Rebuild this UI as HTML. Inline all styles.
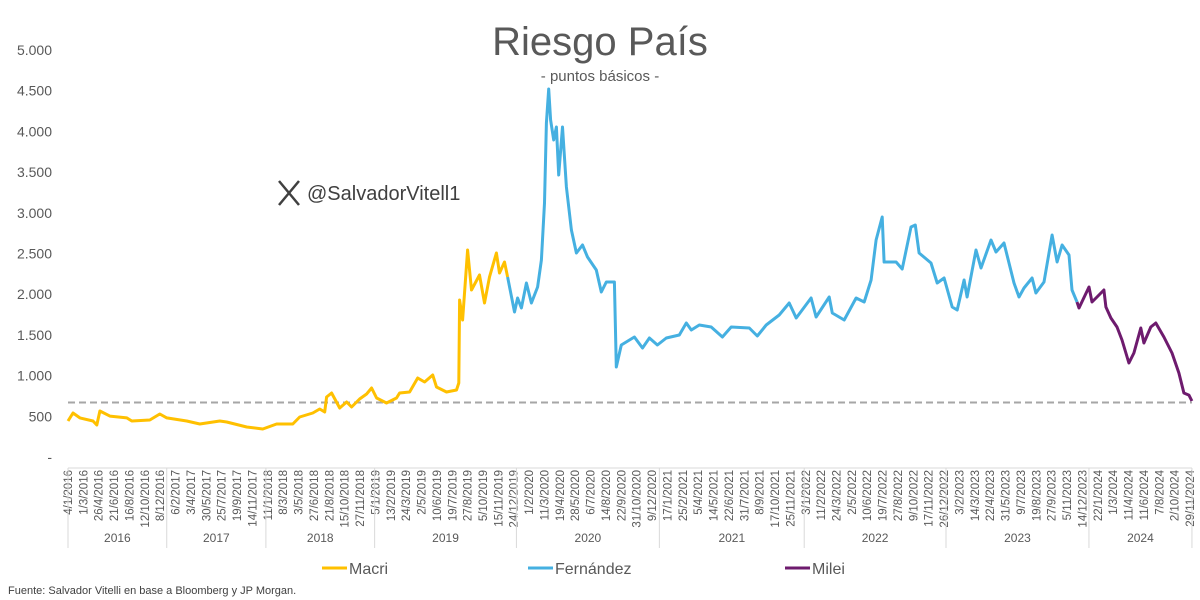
<!DOCTYPE html>
<html><head><meta charset="utf-8"><style>
body{margin:0;background:#fff;}
svg{display:block;font-family:"Liberation Sans",sans-serif;}
</style></head><body>
<svg id="chart" width="1200" height="600">
<text x="600" y="55" text-anchor="middle" font-size="40" fill="#595959">Riesgo País</text>
<text x="600" y="81" text-anchor="middle" font-size="15" fill="#595959">- puntos básicos -</text>
<g stroke="#404040" stroke-width="2.5" fill="none"><path d="M279 181 L299 205 M299 181 L279 205" /></g>
<text x="307" y="200" font-size="20" fill="#404040">@SalvadorVitell1</text>
<g id="yaxis"></g><g id="xaxis"></g><g id="series"></g>
<g>
<line x1="322" y1="568" x2="347" y2="568" stroke="#FFC000" stroke-width="3"/>
<text x="349" y="574" font-size="16" fill="#595959">Macri</text>
<line x1="528" y1="568" x2="553" y2="568" stroke="#45B0E1" stroke-width="3"/>
<text x="555" y="574" font-size="16" fill="#595959">Fernández</text>
<line x1="785" y1="568" x2="810" y2="568" stroke="#6E1B6E" stroke-width="3"/>
<text x="812" y="574" font-size="16" fill="#595959">Milei</text>
</g>
<text x="8" y="594" font-size="11" fill="#404040">Fuente: Salvador Vitelli en base a Bloomberg y JP Morgan.</text>
</svg>
<script>
const yTicks=[0,500,1000,1500,2000,2500,3000,3500,4000,4500,5000];
const yTickLabels=["-","500","1.000","1.500","2.000","2.500","3.000","3.500","4.000","4.500","5.000"];
const xTickLabels=["4/1/2016","1/3/2016","26/4/2016","21/6/2016","16/8/2016","12/10/2016","8/12/2016","6/2/2017","3/4/2017","30/5/2017","25/7/2017","19/9/2017","14/11/2017","11/1/2018","8/3/2018","3/5/2018","27/6/2018","21/8/2018","15/10/2018","27/11/2018","5/1/2019","13/2/2019","24/3/2019","2/5/2019","10/6/2019","19/7/2019","27/8/2019","5/10/2019","15/11/2019","24/12/2019","1/2/2020","11/3/2020","19/4/2020","28/5/2020","6/7/2020","14/8/2020","22/9/2020","31/10/2020","9/12/2020","17/1/2021","25/2/2021","5/4/2021","14/5/2021","22/6/2021","31/7/2021","8/9/2021","17/10/2021","25/11/2021","3/1/2022","11/2/2022","24/3/2022","2/5/2022","10/6/2022","19/7/2022","27/8/2022","9/10/2022","17/11/2022","26/12/2022","3/2/2023","14/3/2023","22/4/2023","31/5/2023","9/7/2023","19/8/2023","27/9/2023","5/11/2023","14/12/2023","22/1/2024","1/3/2024","11/4/2024","11/6/2024","7/8/2024","2/10/2024","29/11/2024"];
const tickEvery=40;
const years=["2016","2017","2018","2019","2020","2021","2022","2023","2024"];
const yearStarts=[0,257,515,798,1167,1539,1916,2285,2657];
const lastDay=2925;
const refLevel=670;
const macriDays=[0,13,31,65,75,83,109,153,166,213,239,257,309,343,395,413,465,507,543,585,603,637,655,668,673,686,707,725,738,759,777,790,803,829,855,863,889,910,928,949,959,985,1011,1017,1019,1027,1040,1050,1071,1084,1097,1115,1123,1136,1144];
const macriVals=[442,540,480,442,393,565,503,480,442,455,528,480,442,405,442,430,368,344,405,405,491,540,590,553,737,786,602,676,614,712,774,848,725,663,725,786,798,970,921,1007,860,798,823,909,1929,1683,2543,2052,2236,1892,2211,2506,2260,2396,2211];
const fernDays=[1144,1162,1170,1180,1193,1206,1222,1232,1240,1245,1251,1256,1264,1271,1277,1287,1297,1310,1323,1339,1352,1375,1388,1401,1422,1427,1440,1474,1495,1513,1534,1557,1591,1609,1622,1643,1674,1703,1726,1773,1794,1817,1851,1877,1895,1934,1947,1981,1989,2020,2051,2072,2090,2103,2119,2124,2155,2171,2194,2205,2215,2246,2262,2280,2301,2314,2332,2340,2363,2376,2402,2415,2436,2462,2475,2488,2509,2519,2540,2561,2574,2587,2605,2613,2626];
const fernVals=[2211,1781,1953,1830,2138,1892,2088,2420,3120,4103,4521,4140,3894,4054,3464,4054,3317,2789,2506,2604,2457,2297,2027,2150,2150,1106,1376,1474,1339,1462,1376,1462,1499,1646,1560,1622,1597,1474,1597,1585,1486,1622,1744,1892,1708,1953,1720,1966,1769,1683,1953,1904,2174,2666,2948,2396,2396,2310,2826,2850,2506,2383,2138,2199,1843,1806,2174,1966,2543,2322,2666,2519,2629,2138,1966,2076,2199,2015,2150,2727,2396,2604,2482,2052,1904];
const mileiDays=[2626,2631,2657,2665,2678,2696,2701,2714,2730,2743,2761,2774,2792,2800,2818,2831,2852,2873,2891,2904,2917,2925];
const mileiVals=[1904,1830,2088,1904,1966,2052,1843,1708,1597,1437,1155,1278,1585,1400,1597,1646,1474,1278,1032,786,761,688];

const NS="http://www.w3.org/2000/svg";
const X0=68,PX_PER_TICK=15.37,Y0=457,Y_PER_UNIT=407/5000;
function xs(d){return X0+d/tickEvery*PX_PER_TICK;}
function ys(v){return Y0-v*Y_PER_UNIT;}
function mk(tag,attrs,parent){const e=document.createElementNS(NS,tag);for(const k in attrs)e.setAttribute(k,attrs[k]);parent.appendChild(e);return e;}
const ya=document.getElementById('yaxis'),xa=document.getElementById('xaxis'),sg=document.getElementById('series');
yTicks.forEach((v,i)=>{
 const t=mk('text',{x:52,y:ys(v)+5,'text-anchor':'end','font-size':14,fill:'#595959'},ya);
 
 
 t.textContent=yTickLabels[i];
});
const ax=mk('line',{x1:X0,y1:468,x2:xs(lastDay),y2:468,stroke:'#d9d9d9','stroke-width':1},xa);


xTickLabels.forEach((lab,i)=>{
 const x=xs(i*tickEvery)+4;
 const t=mk('text',{x:x,y:470,'text-anchor':'end','font-size':11.5,fill:'#595959',transform:`rotate(-90 ${x} 470)`},xa);
 
 
 t.textContent=lab;
});
const bounds=yearStarts.concat([lastDay]);
bounds.forEach(d=>{
 const l=mk('line',{x1:xs(d),y1:468,x2:xs(d),y2:548,stroke:'#d9d9d9','stroke-width':1},xa);
 
 
});
years.forEach((y,i)=>{
 const t=mk('text',{x:(xs(bounds[i])+xs(bounds[i+1]))/2,y:542,'text-anchor':'middle','font-size':12,fill:'#595959'},xa);
 
 
 t.textContent=y;
});
const ref=mk('line',{x1:X0,y1:ys(refLevel),x2:xs(lastDay),y2:ys(refLevel),stroke:'#a6a6a6','stroke-width':2,'stroke-dasharray':'7,4'},sg);


function series(days,vals,color,name){
 const d=days.map((dd,i)=>(i?'L':'M')+xs(dd).toFixed(1)+' '+ys(vals[i]).toFixed(1)).join(' ');
 const p=mk('path',{d:d,fill:'none',stroke:color,'stroke-width':3,'stroke-linejoin':'round'},sg);
 
 
}
series(macriDays,macriVals,'#FFC000','macri-line');
series(fernDays,fernVals,'#45B0E1','fernandez-line');
series(mileiDays,mileiVals,'#6E1B6E','milei-line');
</script>
</body></html>
